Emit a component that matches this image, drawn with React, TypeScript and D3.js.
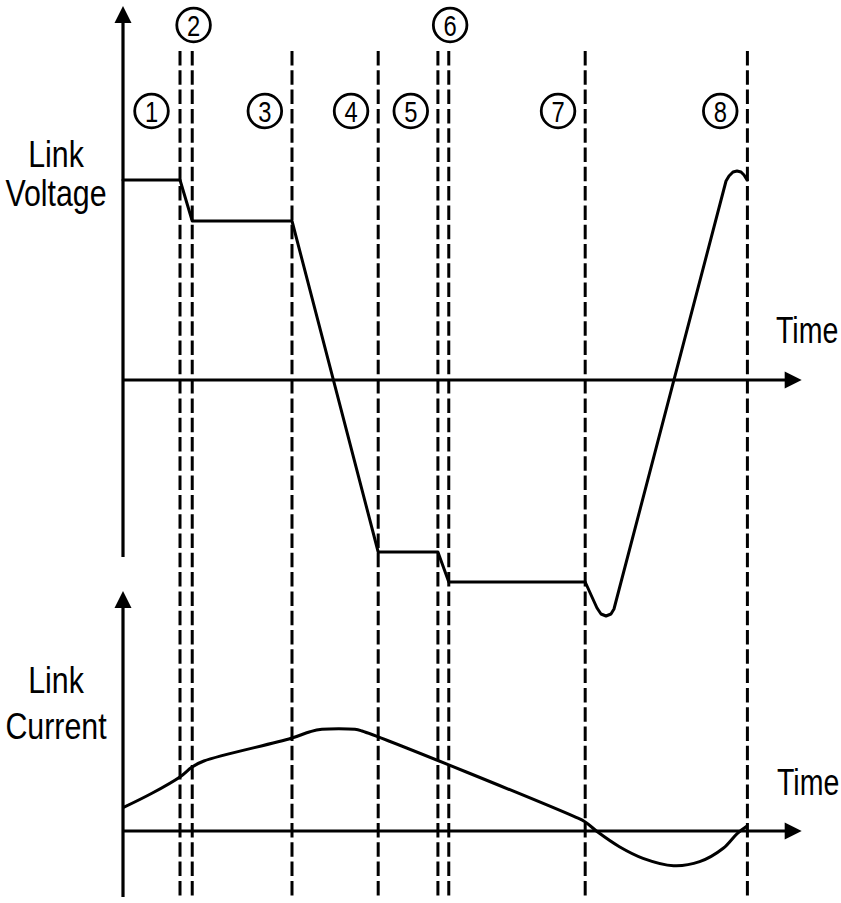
import React, { useEffect, useRef } from 'react';
import * as d3 from 'd3';

// phase boundaries (time, arbitrary units 0..100)
const phaseTimes = [8.4, 10.2, 24.9, 37.6, 46.4, 48.0, 68.1, 92.0];
const phaseLabels = ['1', '2', '3', '4', '5', '6', '7', '8'];
const phaseLabelTimes = [4.2, 10.4, 20.9, 33.6, 42.4, 48.2, 64.1, 88.0];
const phaseLabelTier = [1, 0, 1, 1, 1, 0, 1, 1]; // 0 = upper row

// link voltage (normalised)
const voltageTime = [0, 8.4, 10.2, 24.9, 37.6, 46.4, 48.0, 68.1, 69.1, 69.84, 70.43, 71.17, 71.9, 72.34, 88.85, 89.29, 89.88, 90.47, 91.06, 91.5, 91.95];
const voltageValue = [1.0, 1.0, 0.795, 0.795, -0.86, -0.86, -1.01, -1.01, -1.085, -1.14, -1.17, -1.18, -1.17, -1.145, 0.995, 1.02, 1.04, 1.045, 1.04, 1.025, 1.0];

// link current (normalised)
const currentTime = [0, 4.26, 8.44, 10.18, 11.92, 24.78, 27.57, 29.31, 34.17, 35.22, 66.52, 68.05, 70.0, 73.14, 76.62, 81.12, 84.96, 88.44, 90.53, 92.0];
const currentValue = [0.233, 0.377, 0.543, 0.64, 0.70, 0.927, 0.993, 1.017, 1.017, 1.0, 0.143, 0.093, -0.013, -0.157, -0.273, -0.347, -0.307, -0.173, -0.023, 0.053];

const FONT = '"Liberation Sans", Arial, sans-serif';
const NARROW = 0.82;

const App = () => {
  const svgRef = useRef<SVGSVGElement | null>(null);

  useEffect(() => {
    if (!svgRef.current) return;
    const width = 841;
    const height = 903;
    const svg = d3.select(svgRef.current);
    svg.selectAll('*').remove();
    svg.attr('width', width).attr('height', height).attr('viewBox', `0 0 ${width} ${height}`);

    const x = d3.scaleLinear().domain([0, 100]).range([123, 801.7]);
    const yV = d3.scaleLinear().domain([-1, 1]).range([580, 180]);
    const yI = d3.scaleLinear().domain([0, 1]).range([831, 731]);

    const x0 = x(0);
    const xEnd = x(100);
    const ah = 17; // arrow head size

    const arrowUp = (cx: number, tip: number) =>
      `M${cx},${tip} L${cx - ah / 2},${tip + ah} L${cx + ah / 2},${tip + ah} Z`;
    const arrowRight = (cy: number, tip: number) =>
      `M${tip},${cy} L${tip - ah},${cy - ah / 2} L${tip - ah},${cy + ah / 2} Z`;

    const axes = svg.append('g').attr('stroke', '#000').attr('stroke-width', 3.2);
    axes.append('line').attr('x1', x0).attr('x2', x0).attr('y1', 557).attr('y2', 12);
    axes.append('line').attr('x1', x0).attr('x2', xEnd - 6).attr('y1', yV(0)).attr('y2', yV(0));
    axes.append('line').attr('x1', x0).attr('x2', x0).attr('y1', 897).attr('y2', 597);
    axes.append('line').attr('x1', x0).attr('x2', xEnd - 6).attr('y1', yI(0)).attr('y2', yI(0));

    const heads = svg.append('g').attr('fill', '#000');
    heads.append('path').attr('d', arrowUp(x0, 6));
    heads.append('path').attr('d', arrowUp(x0, 591));
    heads.append('path').attr('d', arrowRight(yV(0), xEnd));
    heads.append('path').attr('d', arrowRight(yI(0), xEnd));

    // phase boundaries
    svg.append('g')
      .selectAll('line')
      .data(phaseTimes)
      .join('line')
      .attr('x1', d => x(d))
      .attr('x2', d => x(d))
      .attr('y1', 51)
      .attr('y2', 897)
      .attr('stroke', '#000')
      .attr('stroke-width', 3)
      .attr('stroke-dasharray', '14.5 4.8');

    // phase markers
    const markers = svg.append('g')
      .selectAll('g')
      .data(phaseLabels.map((l, i) => ({ label: l, t: phaseLabelTimes[i], tier: phaseLabelTier[i] })))
      .join('g')
      .attr('transform', d => `translate(${x(d.t)}, ${d.tier === 0 ? 25 : 111})`);
    markers.append('circle')
      .attr('r', 16.8)
      .attr('fill', '#fff')
      .attr('stroke', '#000')
      .attr('stroke-width', 2.8);
    markers.append('text')
      .attr('text-anchor', 'middle')
      .attr('transform', `scale(${NARROW},1)`)
      .attr('y', 10.5)
      .attr('font-family', FONT)
      .attr('font-size', 29)
      .text(d => d.label);

    // voltage
    const vData = voltageTime.map((t, i) => [t, voltageValue[i]] as [number, number]);
    svg.append('path')
      .attr('d', d3.line<[number, number]>().x(d => x(d[0])).y(d => yV(d[1])).curve(d3.curveLinear)(vData) ?? '')
      .attr('fill', 'none')
      .attr('stroke', '#000')
      .attr('stroke-width', 3)
      .attr('stroke-linejoin', 'round')
      .attr('stroke-linecap', 'round');

    // current
    const iData = currentTime.map((t, i) => [t, currentValue[i]] as [number, number]);
    svg.append('path')
      .attr('d', d3.line<[number, number]>().x(d => x(d[0])).y(d => yI(d[1])).curve(d3.curveCatmullRom.alpha(0.5))(iData) ?? '')
      .attr('fill', 'none')
      .attr('stroke', '#000')
      .attr('stroke-width', 3)
      .attr('stroke-linejoin', 'round');

    // labels
    const labels = svg.append('g').attr('font-family', FONT).attr('font-size', 37).attr('fill', '#000');
    const addLabel = (txt: string, lx: number, ly: number, anchor: string, sx = NARROW) =>
      labels.append('text')
        .attr('transform', `translate(${lx},${ly}) scale(${sx},1)`)
        .attr('text-anchor', anchor)
        .text(txt);
    addLabel('Link', 56, 167, 'middle');
    addLabel('Voltage', 56, 206, 'middle');
    addLabel('Link', 56, 693, 'middle');
    addLabel('Current', 56, 739, 'middle');
    addLabel('Time', 776, 343, 'start', 0.77);
    addLabel('Time', 777, 795, 'start', 0.77);
  }, []);

  return (
    <div style={{ position: 'absolute', left: 0, top: 0, background: '#fff' }}>
      <svg ref={svgRef} style={{ display: 'block' }}></svg>
    </div>
  );
};

export default App;
